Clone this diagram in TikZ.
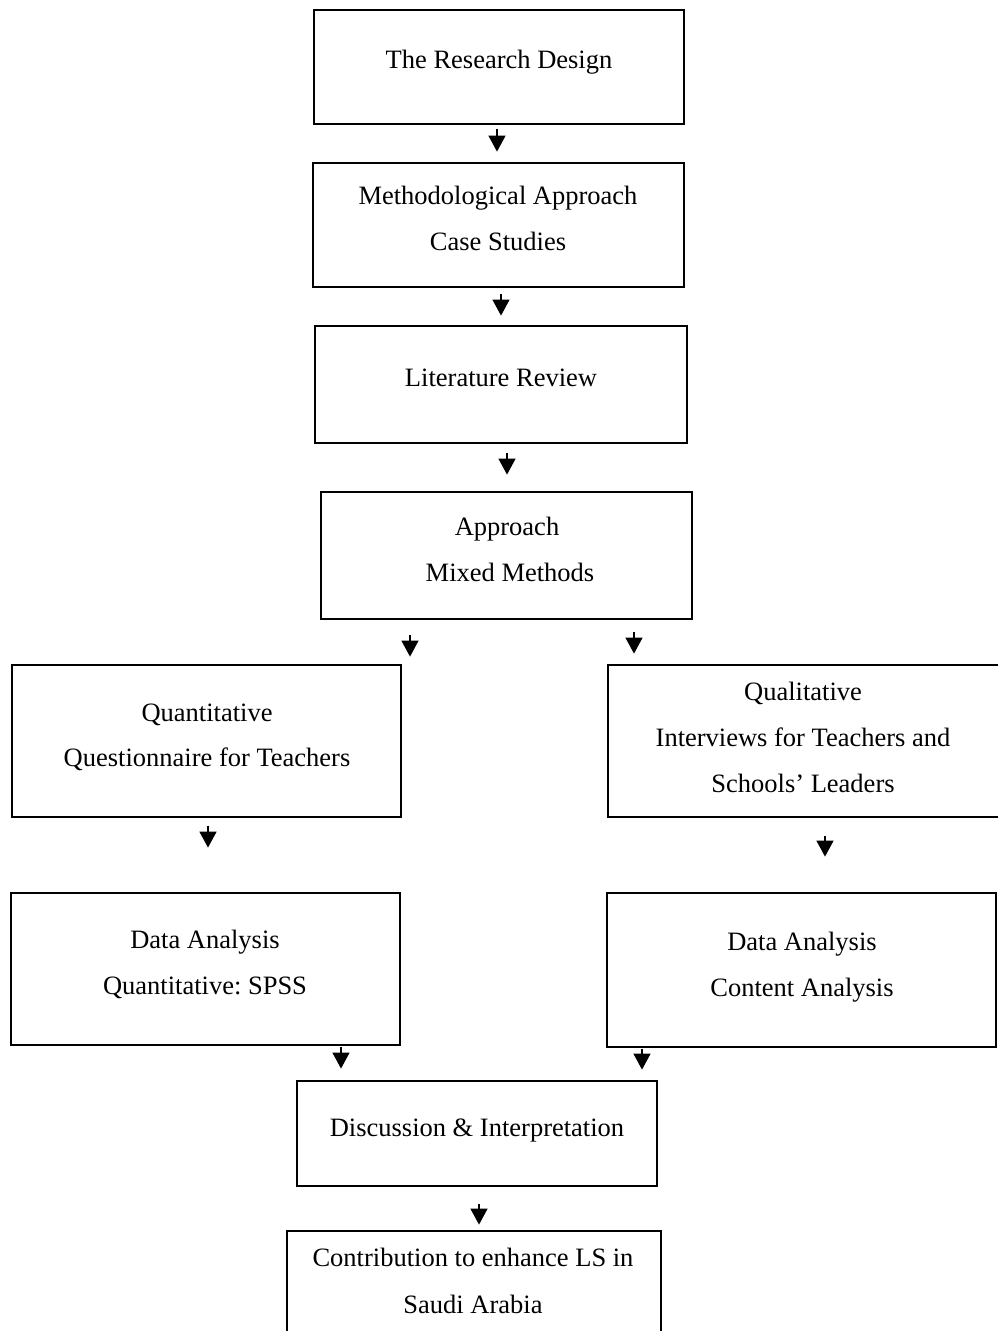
\documentclass[tikz,border=0pt]{standalone}
\usepackage{fontspec}
\setmainfont{Liberation Serif}
\usetikzlibrary{arrows.meta}
\frenchspacing

\tikzset{
  box/.style={draw, line width=1.2pt, inner sep=0pt, rectangle},
  txt/.style={anchor=base, inner sep=0pt, font=\fontsize{26.5}{46}\selectfont},
  flow/.style={-{Triangle[width=17pt,length=16pt]}, line width=1.3pt},
}

\begin{document}
\begin{tikzpicture}[x=1pt, y=-1pt]
\useasboundingbox (0,0) rectangle (997,1331);

% boxes
\node[box, minimum width=370pt, minimum height=114pt] (rd)    at (499,67) {};
\node[box, minimum width=371pt, minimum height=124pt] (meth)  at (498.5,225) {};
\node[box, minimum width=372pt, minimum height=117pt] (lit)   at (501,384.5) {};
\node[box, minimum width=371pt, minimum height=127pt] (appr)  at (506.5,555.5) {};
\node[box, minimum width=389pt, minimum height=152pt] (quan)  at (206.5,741) {};
\node[box, minimum width=394pt, minimum height=152pt] (qual)  at (805,741) {};
\node[box, minimum width=389pt, minimum height=152pt] (dal)   at (205.5,969) {};
\node[box, minimum width=389pt, minimum height=154pt] (dar)   at (801.5,970) {};
\node[box, minimum width=360pt, minimum height=105pt] (disc)  at (477,1133.5) {};
\node[box, minimum width=374pt, minimum height=120pt] (contr) at (474,1291) {};

% box texts
\node[txt] (rd-t)     at (499,68)    {The Research Design};
\node[txt] (meth-t1)  at (498,204)   {Methodological Approach};
\node[txt] (meth-t2)  at (498,250.5) {Case Studies};
\node[txt] (lit-t)    at (501,386)   {Literature Review};
\node[txt] (appr-t1)  at (507,535)   {Approach};
\node[txt] (appr-t2)  at (510,581)   {Mixed Methods};
\node[txt] (quan-t1)  at (207,721)   {Quantitative};
\node[txt] (quan-t2)  at (207,766)   {Questionnaire for Teachers};
\node[txt] (qual-t1)  at (803,700)   {Qualitative};
\node[txt] (qual-t2)  at (803,746)   {Interviews for Teachers and};
\node[txt] (qual-t3)  at (803,792)   {Schools’ Leaders};
\node[txt] (dal-t1)   at (205,948)   {Data Analysis};
\node[txt] (dal-t2)   at (205,994)   {Quantitative: SPSS};
\node[txt] (dar-t1)   at (802,950)   {Data Analysis};
\node[txt] (dar-t2)   at (802,996)   {Content Analysis};
\node[txt] (disc-t)   at (477,1136)  {Discussion \& Interpretation};
\node[txt] (contr-t1) at (473,1266)  {Contribution to enhance LS in};
\node[txt] (contr-t2) at (473,1313)  {Saudi Arabia};

% flow arrows between the stages
\draw[flow] ([xshift=-2pt,yshift=-4pt]rd.south)       -- ++(0,23);
\draw[flow] ([xshift=2.5pt,yshift=-6pt]meth.south)    -- ++(0,22);
\draw[flow] ([xshift=6pt,yshift=-9pt]lit.south)       -- ++(0,22);
\draw[flow] ([xshift=-96.5pt,yshift=-15pt]appr.south) -- ++(0,22);
\draw[flow] ([xshift=127.5pt,yshift=-12pt]appr.south) -- ++(0,22);
\draw[flow] ([xshift=1.5pt,yshift=-8pt]quan.south)    -- ++(0,22);
\draw[flow] ([xshift=20pt,yshift=-18pt]qual.south)    -- ++(0,21);
\draw[flow] ([xshift=135.5pt,yshift=-1pt]dal.south)   -- ++(0,22);
\draw[flow] ([xshift=-159.5pt,yshift=-1pt]dar.south)  -- ++(0,21);
\draw[flow] ([xshift=2pt,yshift=-17pt]disc.south)     -- ++(0,21);
\end{tikzpicture}
\end{document}
